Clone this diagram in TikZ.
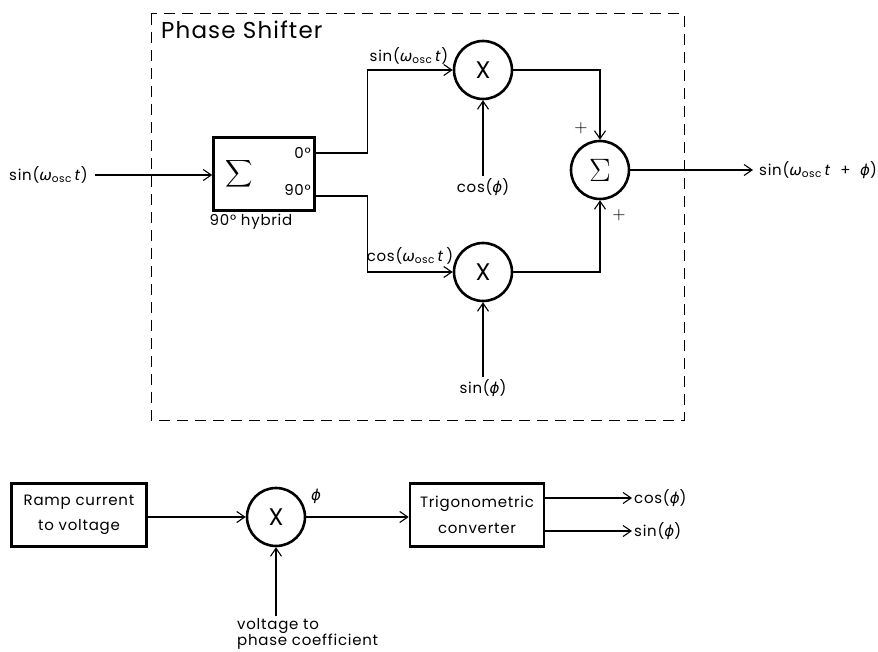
\RequirePackage{fix-cm}
\documentclass[tikz,border=0pt]{standalone}
\usepackage{fontspec}
\setmainfont{Poppins}[LetterSpace=5]
\newfontfamily\gkfont{DejaVu Sans}
\usetikzlibrary{arrows.meta,calc}
\newcommand{\wosc}{{\gkfont\itshape ω}\textsubscript{osc}}
\newcommand{\ph}{{\gkfont\itshape ϕ}}
\newcommand{\tvar}{\textit{t}}
\begin{document}
\begin{tikzpicture}[x=1pt,y=-1pt,
  >={Straight Barb[length=8pt,width=11pt]},
  conn/.style={line width=1.1pt},
  thickbox/.style={draw,line width=2.6pt,rectangle,inner sep=0pt},
  circ/.style={draw,line width=2.6pt,circle,minimum size=58pt,inner sep=0pt,font=\fontsize{24}{26}\selectfont},
  lab/.style={font=\fontsize{15}{17}\selectfont,inner sep=2pt},
  plus/.style={inner sep=0pt}]
\useasboundingbox (0,0) rectangle (878,652);
% dashed enclosure
\draw[line width=1pt,dash pattern=on 11pt off 7pt] (151,14) rectangle (684,420);
\node[anchor=west,font=\fontsize{23}{25}\selectfont,inner sep=0pt] (title) at (161,30) {Phase Shifter};
% hybrid
\node[thickbox,minimum width=101pt,minimum height=73pt] (hyb) at (264,174) {};
\node[inner sep=0pt] (hsum) at (239,174) {\scalebox{1.9}{$\displaystyle\sum$}};
\node[lab,anchor=east] (p0) at (313,153) {0°};
\node[lab,anchor=east] (p90) at (313,190) {90°};
\node[lab] (hlab) at (251,222) {90° hybrid};
% input
\node[lab,anchor=west] (inl) at (7,175) {sin(\wosc\,\tvar)};
\draw[conn,->] ([xshift=5pt]inl.east) -- (hyb.west |- inl.east);
% multipliers
\node[circ] (m1) at (483,70) {X};
\node[circ] (m2) at (483,272) {X};
\node[circ] (sum) at (600,170) {\scalebox{1.35}{$\Sigma$}};
\draw[conn,->] ([yshift=21pt]hyb.east) -- ++(52,0) |- (m1.west);
\draw[conn,->] ([yshift=-22pt]hyb.east) -- ++(52,0) |- (m2.west);
\node[lab] (s1) at (409,56) {sin(\wosc\,\tvar)};
\node[lab] (c1) at (410,256) {cos(\wosc\,\tvar\,)};
\node[lab] (cphi) at (483,187) {cos(\ph)};
\node[lab] (sphi) at (483,388) {sin(\ph)};
\draw[conn,->] (cphi.north) -- (m1.south);
\draw[conn,->] (sphi.north) -- (m2.south);
\draw[conn,->] (m1.east) -| (sum.north);
\draw[conn,->] (m2.east) -| (sum.south);
\node[plus] (pl1) at (581,128) {\scalebox{1.7}{$+$}};
\node[plus] (pl2) at (619,215) {\scalebox{1.7}{$+$}};
\node[lab,anchor=west] (outl) at (757,170) {sin(\wosc\,\tvar\ \ +\ \ \ph)};
\draw[conn,->] (sum.east) -- ([xshift=-4pt]outl.west);
% bottom chain
\node[thickbox,minimum width=135pt,minimum height=63pt,align=center,font=\fontsize{15}{25}\selectfont] (ramp) at (79,515) {Ramp current\\to voltage};
\node[circ] (m3) at (276,517) {X};
\node[thickbox,minimum width=134pt,minimum height=63pt,align=center,font=\fontsize{15}{26}\selectfont] (trig) at (477,515) {Trigonometric\\converter};
\draw[conn,->] (ramp.east |- m3.west) -- (m3.west);
\draw[conn,->] (m3.east) -- (trig.west |- m3.east);
\node[lab] (phil) at (316,496) {\ph};
\node[lab,anchor=north west,align=left,font=\fontsize{15}{15}\selectfont] (vlab) at (235,616) {voltage to\\phase coefficient};
\draw[conn,->] (vlab.north -| m3.south) -- (m3.south);
\node[lab,anchor=west] (cout) at (632,498) {cos(\ph)};
\node[lab,anchor=west] (sout) at (632,531) {sin(\ph)};
\draw[conn,->] (trig.east |- cout.west) -- (cout.west);
\draw[conn,->] (trig.east |- sout.west) -- (sout.west);
\end{tikzpicture}
\end{document}
